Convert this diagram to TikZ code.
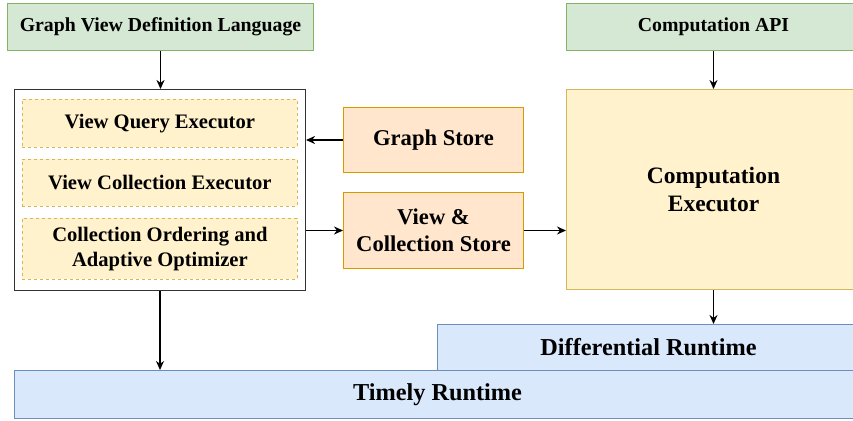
\documentclass[tikz,border=0pt]{standalone}
\usepackage{fontspec}
\setmainfont{Liberation Serif}
\usetikzlibrary{arrows.meta}
\definecolor{grnfill}{HTML}{D5E8D4}
\definecolor{grnline}{HTML}{82B366}
\definecolor{orgfill}{HTML}{FFE6CC}
\definecolor{orgline}{HTML}{D79B00}
\definecolor{ylwfill}{HTML}{FFF2CC}
\definecolor{ylwline}{HTML}{D6B656}
\definecolor{blufill}{HTML}{DAE8FC}
\definecolor{bluline}{HTML}{6C8EBF}
\newcommand{\fsz}[1]{\fontsize{#1}{1.2\dimexpr#1pt\relax}\selectfont\bfseries}
\tikzset{
  blk/.style={draw, line width=1pt, inner sep=0pt, align=center, anchor=north west},
  apibox/.style={blk, fill=grnfill, draw=grnline, font=\fsz{19.8}},
  subbox/.style={blk, fill=ylwfill, draw=ylwline, dashed, line width=0.8pt, font=\fsz{20.6}},
  storebox/.style={blk, fill=orgfill, draw=orgline, font=\fsz{22.6}},
  runbox/.style={blk, fill=blufill, draw=bluline, font=\fsz{24.3}},
  flow/.style={line width=1.5pt, -{Stealth[length=9pt,width=8pt]}}
}
\begin{document}
\begin{tikzpicture}[x=1pt,y=-1pt]
\useasboundingbox (0,0) rectangle (853,420);
\clip (0,0) rectangle (853,420);

% top-level interfaces
\node[apibox, minimum width=306pt, minimum height=47pt] (gvdl) at (7,3) {Graph View Definition Language};
\node[apibox, minimum width=294pt, minimum height=47pt] (capi) at (566,3) {Computation API};

% view engine with its three components
\node[blk, draw=black!80, fill=white, minimum width=291pt, minimum height=201pt] (outer) at (14,89) {};
\node[subbox, minimum width=275pt, minimum height=48pt] (vqe) at (22,99) {View Query Executor};
\node[subbox, minimum width=275pt, minimum height=47pt] (vce) at (22,159) {View Collection Executor};
\node[subbox, minimum width=275pt, minimum height=61pt] (coao) at (22,218) {Collection Ordering and\\Adaptive Optimizer};

% stores
\node[storebox, minimum width=180pt, minimum height=65pt] (gs) at (343,107) {Graph Store};
\node[storebox, minimum width=180pt, minimum height=76pt] (vcs) at (343,192) {View \&\\Collection Store};

% computation executor
\node[blk, fill=ylwfill, draw=ylwline, font=\fsz{23.5}, minimum width=294pt, minimum height=200pt] (ce) at (566,89) {Computation\\Executor};

% runtimes
\node[runbox, minimum width=422pt, minimum height=46pt] (dr) at (437,324) {Differential Runtime};
\node[runbox, minimum width=846pt, minimum height=48pt] (tr) at (14,370) {Timely Runtime};

% data flow
\draw[flow] (gvdl.south) -- (gvdl.south |- outer.north);
\draw[flow] (gs.west) -- (gs.west -| outer.east);
\draw[flow] (outer.east |- vcs.west) -- (vcs.west);
\draw[flow] (vcs.east) -- (vcs.east -| ce.west);
\draw[flow] (capi.south) -- (capi.south |- ce.north);
\draw[flow] (ce.south) -- (ce.south |- dr.north);
\draw[flow] (outer.south) -- (outer.south |- tr.north);
\end{tikzpicture}
\end{document}
